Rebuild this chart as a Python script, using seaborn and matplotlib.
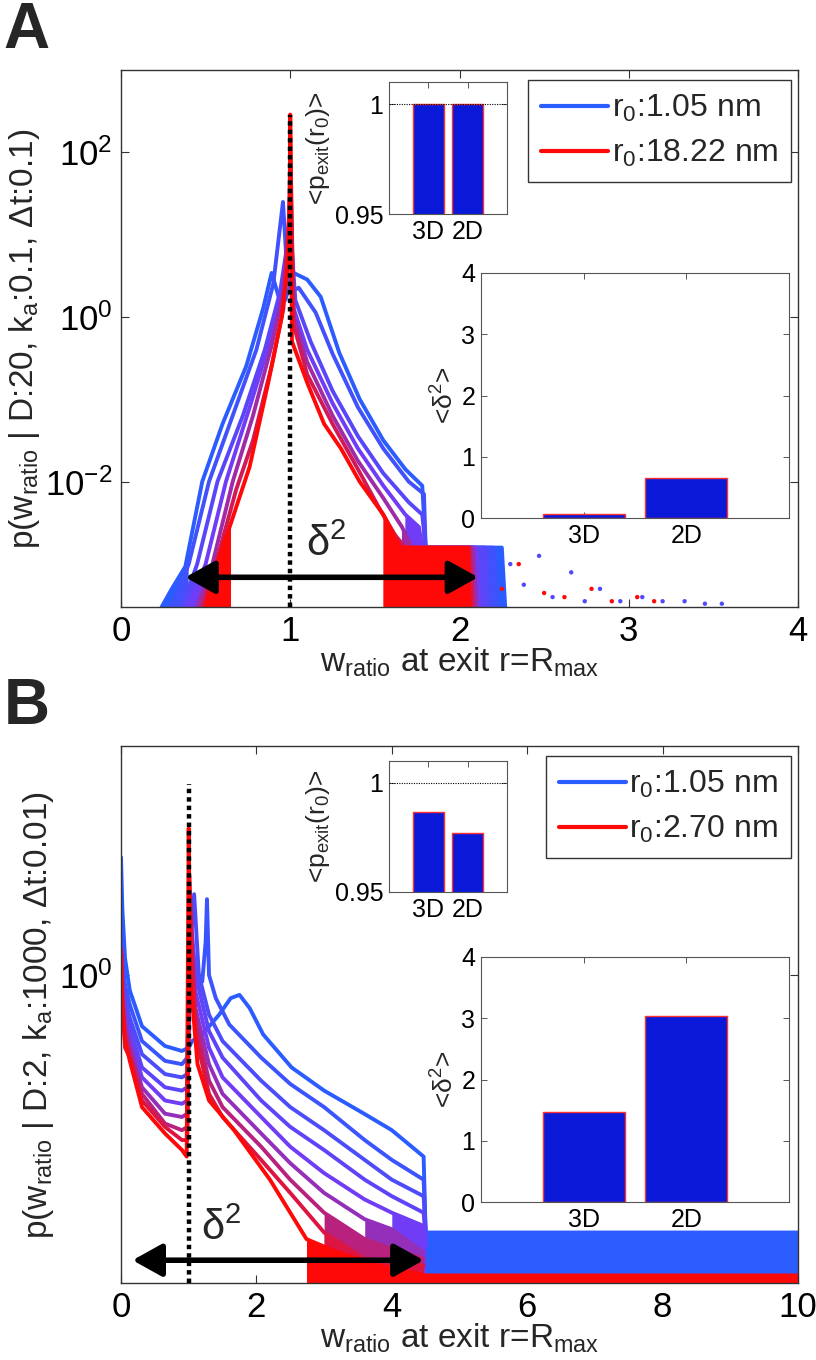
import numpy as np
import pandas as pd
import matplotlib
matplotlib.use('Agg')
import matplotlib.pyplot as plt
from matplotlib import font_manager
from matplotlib.colors import LinearSegmentedColormap
from matplotlib.lines import Line2D
import seaborn as sns

# ---------------- panel A : log10 p(w_ratio), curves from r0 small (blue) to large (red)
a_x0 = [0.24, 0.30, 0.38, 0.48, 0.60, 0.74, 0.84, 0.89, 0.93, 0.97, 1.02, 1.10, 1.18, 1.29, 1.41, 1.55, 1.68, 1.78, 1.80, 2.25, 2.27]
a_y0 = [-3.52, -3.3, -3.03, -2.0, -1.3, -0.6, 0.1, 0.53, 0.25, 0.2, 0.53, 0.45, 0.24, -0.44, -1.0, -1.5, -1.85, -2.05, -2.8, -2.8, -3.52]
a_x1 = [0.30, 0.40, 0.52, 0.66, 0.80, 0.90, 0.957, 0.98, 1.00, 1.05, 1.15, 1.25, 1.40, 1.55, 1.70, 1.79, 1.80, 2.20, 2.22]
a_y1 = [-3.52, -3.0, -2.0, -1.2, -0.4, 0.4, 1.39, 0.6, 0.3, 0.35, 0.05, -0.45, -1.1, -1.6, -2.0, -2.15, -2.8, -2.8, -3.52]
a_x2 = [0.36, 0.45, 0.57, 0.72, 0.85, 0.94, 0.985, 1.0, 1.03, 1.12, 1.25, 1.40, 1.55, 1.70, 1.78, 1.80, 2.15, 2.17]
a_y2 = [-3.52, -3.0, -2.0, -1.2, -0.4, 0.3, 0.9, 1.1, 0.2, -0.3, -0.9, -1.45, -1.9, -2.25, -2.4, -2.8, -2.8, -3.52]
a_x3 = [0.40, 0.50, 0.62, 0.76, 0.88, 0.95, 0.99, 1.0, 1.02, 1.10, 1.25, 1.40, 1.55, 1.68, 1.76, 1.78, 2.10, 2.12]
a_y3 = [-3.52, -3.0, -2.0, -1.1, -0.3, 0.3, 1.0, 1.5, 0.1, -0.4, -1.05, -1.6, -2.05, -2.4, -2.55, -2.8, -2.8, -3.52]
a_x4 = [0.45, 0.54, 0.66, 0.78, 0.89, 0.96, 0.995, 1.0, 1.02, 1.10, 1.25, 1.40, 1.55, 1.66, 1.72, 2.08, 2.10]
a_y4 = [-3.52, -3.0, -2.0, -1.2, -0.35, 0.3, 1.2, 1.9, 0.0, -0.55, -1.2, -1.75, -2.2, -2.55, -2.8, -2.8, -3.52]
a_x5 = [0.48, 0.56, 0.68, 0.78, 0.89, 0.96, 0.995, 1.0, 1.02, 1.10, 1.25, 1.40, 1.52, 1.62, 1.68, 2.06, 2.08]
a_y5 = [-3.52, -3.0, -2.1, -1.5, -0.6, 0.1, 1.3, 2.2, -0.1, -0.7, -1.3, -1.85, -2.3, -2.65, -2.8, -2.8, -3.52]
a_x6 = [0.50, 0.55, 0.65, 0.76, 0.87, 0.95, 0.985, 0.998, 1.0, 1.01, 1.10, 1.20, 1.30, 1.41, 1.55, 1.65, 2.05, 2.06]
a_y6 = [-3.52, -3.1, -2.5, -1.82, -0.8, 0.0, 0.6, 1.5, 2.45, -0.3, -0.8, -1.3, -1.6, -2.0, -2.4, -2.8, -2.8, -3.52]

a_dot_x_blue = [2.30, 2.38, 2.47, 2.55, 2.66, 2.74, 2.83, 2.95, 3.08, 3.20, 3.33, 3.45, 3.55]
a_dot_y_blue = [-3.0, -3.25, -2.9, -3.4, -3.1, -3.45, -3.3, -3.45, -3.4, -3.45, -3.45, -3.48, -3.48]
a_dot_x_red = [2.25, 2.35, 2.50, 2.62, 2.78, 2.90, 3.05, 3.15]
a_dot_y_red = [-3.3, -3.0, -3.35, -3.4, -3.3, -3.45, -3.4, -3.45]

# ---------------- panel B
b_x0 = [0.0, 0.02, 0.06, 0.13, 0.31, 0.65, 0.9, 1.0, 1.05, 1.2, 1.45, 1.62, 1.75, 1.9, 2.1, 2.52, 3.0, 3.59, 4.0, 4.47, 4.5, 10.0]
b_y0 = [0.357, 0.2, 0.05, -0.047, -0.155, -0.215, -0.23, -0.22, -0.2, -0.18, -0.12, -0.07, -0.06, -0.1, -0.18, -0.28, -0.35, -0.42, -0.47, -0.55, -0.78, -0.78]
b_x1 = [0.0, 0.02, 0.06, 0.13, 0.31, 0.65, 0.9, 0.98, 1.02, 1.1, 1.2, 1.25, 1.27, 1.3, 1.4, 1.6, 2.07, 2.5, 3.0, 3.6, 4.0, 4.47, 4.5]
b_y1 = [0.12, 0.05, -0.03, -0.09, -0.2, -0.26, -0.27, -0.25, 0.1, 0.02, -0.02, 0.1, 0.23, 0.0, -0.07, -0.15, -0.25, -0.33, -0.4, -0.5, -0.56, -0.62, -0.78]
b_x2 = [0.0, 0.02, 0.06, 0.13, 0.31, 0.65, 0.9, 0.98, 1.03, 1.08, 1.15, 1.3, 1.5, 2.07, 2.5, 3.0, 3.6, 4.0, 4.47, 4.5]
b_y2 = [0.1, 0.02, -0.07, -0.13, -0.24, -0.3, -0.31, -0.3, 0.1, 0.245, 0.0, -0.12, -0.2, -0.32, -0.4, -0.47, -0.56, -0.62, -0.67, -0.78]
b_x3 = [0.0, 0.02, 0.06, 0.13, 0.31, 0.65, 0.9, 0.98, 1.02, 1.1, 1.3, 1.5, 2.07, 2.5, 3.0, 3.6, 4.0, 4.47, 4.5]
b_y3 = [0.09, 0.0, -0.1, -0.16, -0.28, -0.34, -0.35, -0.34, 0.2, 0.0, -0.17, -0.25, -0.38, -0.46, -0.53, -0.62, -0.67, -0.72, -0.8]
b_x4 = [0.0, 0.02, 0.06, 0.13, 0.31, 0.65, 0.9, 0.98, 1.02, 1.1, 1.3, 1.5, 2.07, 2.5, 3.0, 3.6, 4.0, 4.47, 4.5]
b_y4 = [0.09, -0.02, -0.12, -0.19, -0.31, -0.38, -0.39, -0.38, 0.18, -0.05, -0.22, -0.31, -0.43, -0.52, -0.6, -0.68, -0.72, -0.76, -0.82]
b_x5 = [0.0, 0.02, 0.06, 0.13, 0.31, 0.65, 0.9, 0.98, 1.02, 1.1, 1.3, 1.5, 2.07, 2.5, 3.0, 3.6, 4.0, 4.47]
b_y5 = [0.08, -0.04, -0.15, -0.21, -0.34, -0.42, -0.43, -0.42, 0.15, -0.1, -0.27, -0.36, -0.48, -0.57, -0.66, -0.74, -0.77, -0.84]
b_x6 = [0.0, 0.02, 0.06, 0.13, 0.31, 0.65, 0.9, 0.98, 1.02, 1.1, 1.3, 1.5, 2.07, 2.5, 3.0, 3.6, 4.0, 4.47]
b_y6 = [0.075, -0.06, -0.18, -0.23, -0.36, -0.45, -0.47, -0.46, 0.12, -0.14, -0.32, -0.4, -0.52, -0.62, -0.72, -0.8, -0.83, -0.86]
b_x7 = [0.0, 0.02, 0.06, 0.13, 0.31, 0.65, 0.9, 0.98, 1.01, 1.1, 1.3, 1.5, 2.07, 2.5, 3.0, 3.6, 4.47]
b_y7 = [0.073, -0.08, -0.22, -0.25, -0.38, -0.46, -0.5, -0.5, 0.3, -0.18, -0.36, -0.43, -0.56, -0.66, -0.78, -0.86, -0.88]
b_x8 = [0.0, 0.02, 0.06, 0.13, 0.31, 0.65, 0.9, 0.97, 1.0, 1.02, 1.13, 1.3, 1.67, 2.2, 2.74, 3.2, 3.8, 4.5, 10.0]
b_y8 = [0.072, -0.1, -0.2, -0.26, -0.4, -0.48, -0.53, -0.55, 0.445, 0.0, -0.27, -0.38, -0.47, -0.62, -0.8, -0.84, -0.88, -0.91, -0.91]

# inset bars
dims = ['3D', '2D']
a_pexit = [1.0, 1.0]
a_delta2 = [0.07, 0.65]
b_pexit = [0.9867, 0.977]
b_delta2 = [1.47, 3.04]

a_legend = ['r$_0$:1.05 nm', 'r$_0$:18.22 nm']
b_legend = ['r$_0$:1.05 nm', 'r$_0$:2.70 nm']

# ---------------- style
sns.set_style('ticks')
names = {f.name for f in font_manager.fontManager.ttflist}
fam = 'Liberation Sans Narrow' if 'Liberation Sans Narrow' in names else 'Liberation Sans'
plt.rcParams['font.family'] = [fam, 'DejaVu Sans']
plt.rcParams['mathtext.fontset'] = 'custom'
plt.rcParams['mathtext.rm'] = fam
plt.rcParams['mathtext.it'] = fam + ':italic'
plt.rcParams['mathtext.bf'] = fam + ':bold'
plt.rcParams['axes.linewidth'] = 1.0
plt.rcParams['axes.edgecolor'] = '#333333'

cmap = LinearSegmentedColormap.from_list('rb', ['#2b5cff', '#6f3cf6', '#ff0808'])
BAR = '#0a18d8'
W, H = 816, 1360


def box(x0, y0, x1, y1):
    return [x0 / W, 1 - y1 / H, (x1 - x0) / W, (y1 - y0) / H]


fig = plt.figure(figsize=(8.16, 13.6), dpi=100)


def main_panel(rect, curves, ylog, fill_level, xlim, xticks, yticks, ylabel,
               dotted_top, arrow, delta_pos):
    ax = fig.add_axes(rect)
    ax.set_yscale('log')
    n = len(curves)
    colors = [cmap(k / (n - 1)) for k in range(n)]
    rows = []
    for k, (xs, ys) in enumerate(curves):
        for x, y in zip(xs, ys):
            rows.append(('c%d' % k, x, 10.0 ** y))
    df = pd.DataFrame(rows, columns=['curve', 'w', 'p'])
    order = ['c%d' % k for k in range(n)]
    sns.lineplot(data=df, x='w', y='p', hue='curve', hue_order=order,
                 palette=dict(zip(order, colors)), estimator=None, sort=False,
                 lw=2.8, legend=False, ax=ax)
    for k, line in enumerate(ax.get_lines()):
        line.set_zorder(2 + 0.02 * k)
        line.set_solid_joinstyle('round')
    bottom = 10.0 ** ylog[0]
    for k, (xs, ys) in enumerate(curves):
        xs = np.asarray(xs)
        ys = np.asarray(ys)
        ax.fill_between(xs, bottom, 10.0 ** ys, where=ys < fill_level,
                        color=colors[k], lw=0, zorder=2 + 0.02 * k - 0.01)
    ax.plot([1, 1], [bottom, 10.0 ** dotted_top], color='k', lw=3.2,
            ls=(0, (1, 0.9)), zorder=5, solid_capstyle='butt')
    ax.annotate('', xy=(arrow[1], 10.0 ** arrow[2]), xytext=(arrow[0], 10.0 ** arrow[2]),
                arrowprops=dict(arrowstyle='<|-|>,head_length=0.9,head_width=0.5',
                                color='k', lw=4, mutation_scale=20,
                                shrinkA=0, shrinkB=0), zorder=6)
    ax.text(delta_pos[0], 10.0 ** delta_pos[1], 'δ$^2$', fontsize=30,
            ha='center', va='center', zorder=6)
    ax.set_xlim(*xlim)
    ax.set_ylim(10.0 ** ylog[0], 10.0 ** ylog[1])
    ax.set_xticks(xticks)
    ax.set_xticklabels([str(t) for t in xticks])
    ax.set_yticks(yticks)
    ax.minorticks_off()
    ax.tick_params(direction='in', top=True, right=True, length=6, width=0.8,
                   labelsize=25, pad=6, colors='#333333', labelcolor='k')
    ax.set_xlabel('w$_{\\rm ratio}$ at exit r=R$_{\\rm max}$', fontsize=24, labelpad=-2)
    ax.set_ylabel(ylabel, fontsize=24, labelpad=2)
    return ax


def bar_inset(rect, vals, ylim, yticks, yticklabels, ylabel, refline):
    ax = fig.add_axes(rect)
    sns.barplot(x=dims, y=vals, color=BAR, edgecolor='#ff3030', linewidth=1,
                width=0.8, saturation=1, ax=ax)
    if refline:
        ax.axhline(1, color='k', lw=0.8, ls=(0, (1, 1.2)), zorder=5)
    ax.set_xlim(-1, 2)
    ax.set_ylim(*ylim)
    ax.set_yticks(yticks)
    ax.set_yticklabels(yticklabels)
    ax.set_xlabel('')
    ax.set_ylabel(ylabel, fontsize=19, labelpad=2)
    ax.tick_params(direction='in', top=True, right=True, length=4, width=0.7,
                   labelsize=18, pad=4, colors='#555555', labelcolor='k')
    for s in ax.spines.values():
        s.set_linewidth(0.8)
        s.set_color('#555555')
    return ax


def legend(ax, labels, anchor):
    handles = [Line2D([], [], color=cmap(0.0), lw=3), Line2D([], [], color=cmap(1.0), lw=3)]
    lg = ax.legend(handles, labels, loc='upper right', bbox_to_anchor=anchor,
                   bbox_transform=fig.transFigure, fontsize=23, frameon=True,
                   fancybox=False, framealpha=1, edgecolor='#333333',
                   handlelength=2.1, handletextpad=0.12, labelspacing=0.45,
                   borderpad=0.4, borderaxespad=0)
    lg.get_frame().set_linewidth(1.0)
    lg.set_zorder(10)


# ---------------- panel A
curves_a = [(a_x0, a_y0), (a_x1, a_y1), (a_x2, a_y2), (a_x3, a_y3),
            (a_x4, a_y4), (a_x5, a_y5), (a_x6, a_y6)]
axA = main_panel(box(121, 70, 798, 607), curves_a, (-3.52, 2.99), -2.3, (0, 4),
                 [0, 1, 2, 3, 4], [1e-2, 1, 1e2],
                 'p(w$_{\\rm ratio}$ | D:20, k$_{\\rm a}$:0.1, Δt:0.1)',
                 2.45, (0.38, 2.11, -3.16), (1.21, -2.76))
dots = pd.DataFrame({'w': a_dot_x_blue + a_dot_x_red,
                     'p': [10.0 ** v for v in a_dot_y_blue + a_dot_y_red],
                     'kind': ['b'] * len(a_dot_x_blue) + ['r'] * len(a_dot_x_red)})
sns.scatterplot(data=dots, x='w', y='p', hue='kind',
                palette={'b': cmap(0.3), 'r': cmap(1.0)}, s=10, lw=0,
                legend=False, ax=axA, zorder=3)
legend(axA, a_legend, (791 / W, 1 - 80 / H))

bar_inset(box(389, 82, 507, 214), a_pexit, (0.95, 1.01), [0.95, 1], ['0.95', '1'],
          '<p$_{\\rm exit}$(r$_0$)>', True)
bar_inset(box(481, 273, 789, 518), a_delta2, (0, 4), [0, 1, 2, 3, 4],
          ['0', '1', '2', '3', '4'], '<δ$^2$>', False)

# ---------------- panel B
curves_b = [(b_x0, b_y0), (b_x1, b_y1), (b_x2, b_y2), (b_x3, b_y3), (b_x4, b_y4),
            (b_x5, b_y5), (b_x6, b_y6), (b_x7, b_y7), (b_x8, b_y8)]
axB = main_panel(box(121, 746, 798, 1283), curves_b, (-0.933, 0.694), -0.7, (0, 10),
                 [0, 2, 4, 6, 8, 10], [1],
                 'p(w$_{\\rm ratio}$ | D:2, k$_{\\rm a}$:1000, Δt:0.01)',
                 0.58, (0.17, 4.47, -0.864), (1.48, -0.77))
legend(axB, b_legend, (791 / W, 1 - 756 / H))

bar_inset(box(389, 761, 507, 892), b_pexit, (0.95, 1.01), [0.95, 1], ['0.95', '1'],
          '<p$_{\\rm exit}$(r$_0$)>', True)
bar_inset(box(481, 957, 789, 1202), b_delta2, (0, 4), [0, 1, 2, 3, 4],
          ['0', '1', '2', '3', '4'], '<δ$^2$>', False)

fig.text(0.004, 0.999, 'A', fontsize=46, fontweight='bold', family='Liberation Sans', va='top')
fig.text(0.004, 1 - 724 / H, 'B', fontsize=46, fontweight='bold', family='Liberation Sans')

fig.savefig('out.png', dpi=100, facecolor='white')
